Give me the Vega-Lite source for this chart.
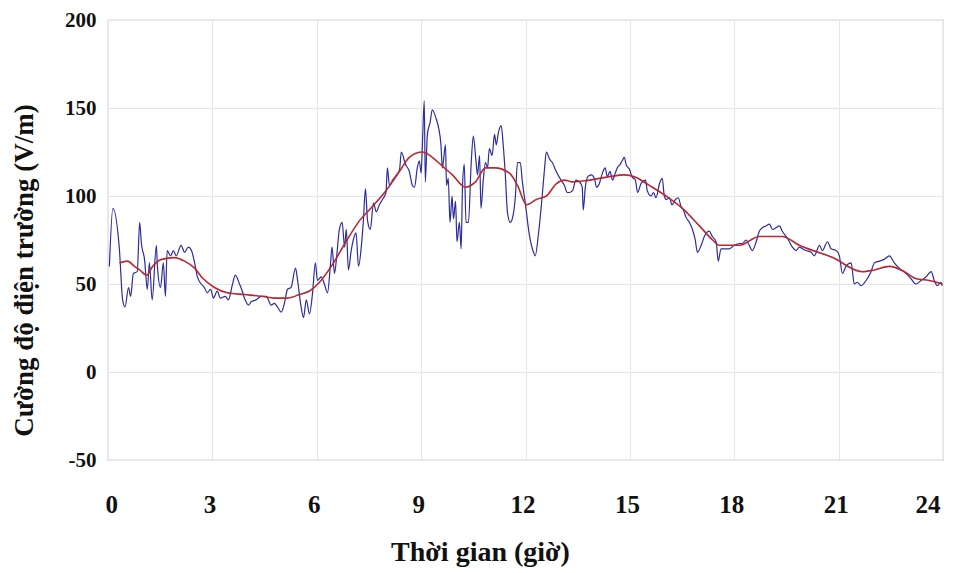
{
  "$schema": "https://vega.github.io/schema/vega-lite/v6.json",
  "width": 835,
  "height": 440,
  "autosize": "none",
  "padding": {"left": 108, "top": 20, "right": 13, "bottom": 113},
  "background": "white",
  "config": {
    "view": {"stroke": "#b8b8b8", "strokeWidth": 1.2},
    "axis": {
      "labelFont": "Liberation Serif",
      "labelFontWeight": "bold",
      "labelFontSize": 20,
      "labelColor": "#111",
      "titleFont": "Liberation Serif",
      "titleFontWeight": "bold",
      "titleFontSize": 27,
      "titleColor": "#111",
      "gridColor": "#e6e6e6",
      "gridWidth": 1,
      "domain": false,
      "ticks": false
    }
  },
  "datasets": {
    "raw": [
      {"t":0.04,"v":60},{"t":0.14,"v":93},{"t":0.33,"v":69},{"t":0.42,"v":41},{"t":0.49,"v":37},{"t":0.59,"v":48},{"t":0.65,"v":43},{"t":0.73,"v":56},{"t":0.84,"v":57},{"t":0.91,"v":85},
      {"t":0.96,"v":73},{"t":1.05,"v":64},{"t":1.13,"v":47},{"t":1.19,"v":62},{"t":1.27,"v":41},{"t":1.39,"v":72},{"t":1.42,"v":60},{"t":1.51,"v":48},{"t":1.59,"v":62},{"t":1.65,"v":43},
      {"t":1.70,"v":69},{"t":1.80,"v":66},{"t":1.88,"v":69},{"t":1.96,"v":66},{"t":2.10,"v":72},{"t":2.20,"v":68},{"t":2.31,"v":71},{"t":2.40,"v":69},{"t":2.49,"v":62},{"t":2.57,"v":54},
      {"t":2.68,"v":50},{"t":2.77,"v":48},{"t":2.85,"v":45},{"t":2.95,"v":47},{"t":3.03,"v":42},{"t":3.14,"v":46},{"t":3.23,"v":42},{"t":3.37,"v":43},{"t":3.46,"v":41},{"t":3.58,"v":50},
      {"t":3.66,"v":55},{"t":3.78,"v":50},{"t":3.84,"v":47},{"t":3.94,"v":41},{"t":4.04,"v":38},{"t":4.12,"v":40},{"t":4.26,"v":41},{"t":4.40,"v":43},{"t":4.55,"v":43},{"t":4.69,"v":38},
      {"t":4.78,"v":39},{"t":4.87,"v":37},{"t":4.98,"v":34},{"t":5.07,"v":39},{"t":5.16,"v":47},{"t":5.26,"v":48},{"t":5.39,"v":59},{"t":5.45,"v":52},{"t":5.55,"v":37},{"t":5.62,"v":31},
      {"t":5.70,"v":41},{"t":5.79,"v":33},{"t":5.88,"v":45},{"t":5.96,"v":62},{"t":6.02,"v":52},{"t":6.13,"v":54},{"t":6.22,"v":50},{"t":6.31,"v":45},{"t":6.39,"v":60},{"t":6.44,"v":71},
      {"t":6.51,"v":56},{"t":6.57,"v":65},{"t":6.65,"v":81},{"t":6.73,"v":85},{"t":6.80,"v":71},{"t":6.85,"v":81},{"t":6.91,"v":58},{"t":6.99,"v":69},{"t":7.05,"v":75},{"t":7.13,"v":79},
      {"t":7.20,"v":60},{"t":7.28,"v":71},{"t":7.34,"v":86},{"t":7.40,"v":104},{"t":7.46,"v":86},{"t":7.54,"v":81},{"t":7.63,"v":96},{"t":7.71,"v":91},{"t":7.80,"v":95},{"t":7.89,"v":98},
      {"t":7.99,"v":102},{"t":8.03,"v":116},{"t":8.09,"v":106},{"t":8.18,"v":109},{"t":8.29,"v":112},{"t":8.38,"v":115},{"t":8.43,"v":125},{"t":8.55,"v":118},{"t":8.66,"v":114},{"t":8.75,"v":106},
      {"t":8.81,"v":105},{"t":8.89,"v":116},{"t":8.95,"v":120},{"t":9.00,"v":113},{"t":9.04,"v":131},{"t":9.09,"v":154},{"t":9.12,"v":108},{"t":9.18,"v":135},{"t":9.26,"v":142},{"t":9.32,"v":149},
      {"t":9.43,"v":144},{"t":9.50,"v":139},{"t":9.57,"v":129},{"t":9.61,"v":116},{"t":9.70,"v":129},{"t":9.73,"v":106},{"t":9.78,"v":110},{"t":9.83,"v":85},{"t":9.89,"v":100},{"t":9.93,"v":87},
      {"t":9.99,"v":97},{"t":10.03,"v":74},{"t":10.10,"v":85},{"t":10.15,"v":70},{"t":10.19,"v":106},{"t":10.24,"v":118},{"t":10.29,"v":85},{"t":10.36,"v":85},{"t":10.44,"v":119},{"t":10.50,"v":134},
      {"t":10.58,"v":119},{"t":10.62,"v":112},{"t":10.68,"v":123},{"t":10.72,"v":93},{"t":10.79,"v":110},{"t":10.85,"v":119},{"t":10.91,"v":116},{"t":10.96,"v":127},{"t":11.04,"v":123},{"t":11.11,"v":135},
      {"t":11.16,"v":129},{"t":11.22,"v":136},{"t":11.30,"v":140},{"t":11.36,"v":129},{"t":11.42,"v":112},{"t":11.48,"v":91},{"t":11.56,"v":85},{"t":11.62,"v":87},{"t":11.71,"v":100},{"t":11.77,"v":119},
      {"t":11.85,"v":119},{"t":11.91,"v":108},{"t":12.00,"v":95},{"t":12.11,"v":78},{"t":12.23,"v":68},{"t":12.28,"v":66},{"t":12.37,"v":78},{"t":12.48,"v":100},{"t":12.54,"v":114},{"t":12.60,"v":125},
      {"t":12.69,"v":121},{"t":12.77,"v":119},{"t":12.88,"v":114},{"t":13.02,"v":109},{"t":13.12,"v":106},{"t":13.20,"v":102},{"t":13.26,"v":102},{"t":13.35,"v":103},{"t":13.45,"v":109},{"t":13.55,"v":108},
      {"t":13.63,"v":105},{"t":13.66,"v":92},{"t":13.72,"v":105},{"t":13.79,"v":111},{"t":13.89,"v":112},{"t":13.98,"v":110},{"t":14.04,"v":105},{"t":14.12,"v":107},{"t":14.21,"v":113},{"t":14.29,"v":116},
      {"t":14.35,"v":111},{"t":14.43,"v":114},{"t":14.50,"v":109},{"t":14.58,"v":113},{"t":14.64,"v":116},{"t":14.72,"v":118},{"t":14.78,"v":120},{"t":14.84,"v":122},{"t":14.89,"v":118},{"t":14.99,"v":115},
      {"t":15.06,"v":111},{"t":15.16,"v":109},{"t":15.22,"v":102},{"t":15.32,"v":107},{"t":15.45,"v":109},{"t":15.50,"v":103},{"t":15.61,"v":100},{"t":15.68,"v":102},{"t":15.75,"v":99},{"t":15.85,"v":107},
      {"t":15.93,"v":110},{"t":15.99,"v":100},{"t":16.05,"v":98},{"t":16.14,"v":99},{"t":16.21,"v":95},{"t":16.31,"v":98},{"t":16.39,"v":99},{"t":16.47,"v":94},{"t":16.54,"v":92},{"t":16.61,"v":88},
      {"t":16.71,"v":85},{"t":16.80,"v":81},{"t":16.88,"v":75},{"t":16.94,"v":68},{"t":17.05,"v":72},{"t":17.14,"v":77},{"t":17.28,"v":80},{"t":17.37,"v":77},{"t":17.48,"v":74},{"t":17.54,"v":63},
      {"t":17.62,"v":70},{"t":17.72,"v":70},{"t":17.86,"v":70},{"t":18.00,"v":72},{"t":18.15,"v":73},{"t":18.23,"v":73},{"t":18.34,"v":75},{"t":18.43,"v":72},{"t":18.52,"v":69},{"t":18.63,"v":74},
      {"t":18.72,"v":80},{"t":18.81,"v":82},{"t":18.91,"v":83},{"t":19.01,"v":84},{"t":19.10,"v":81},{"t":19.20,"v":82},{"t":19.30,"v":83},{"t":19.38,"v":80},{"t":19.53,"v":76},{"t":19.67,"v":71},
      {"t":19.78,"v":69},{"t":19.87,"v":71},{"t":19.96,"v":70},{"t":20.06,"v":69},{"t":20.21,"v":68},{"t":20.30,"v":66},{"t":20.45,"v":72},{"t":20.53,"v":69},{"t":20.68,"v":74},{"t":20.78,"v":70},
      {"t":20.93,"v":69},{"t":21.02,"v":66},{"t":21.11,"v":56},{"t":21.21,"v":60},{"t":21.36,"v":62},{"t":21.45,"v":50},{"t":21.54,"v":51},{"t":21.64,"v":49},{"t":21.79,"v":52},{"t":21.93,"v":57},
      {"t":22.03,"v":62},{"t":22.17,"v":63},{"t":22.31,"v":64},{"t":22.46,"v":66},{"t":22.60,"v":62},{"t":22.74,"v":59},{"t":22.94,"v":56},{"t":23.08,"v":53},{"t":23.22,"v":50},{"t":23.37,"v":52},
      {"t":23.51,"v":54},{"t":23.66,"v":57},{"t":23.75,"v":52},{"t":23.84,"v":49},{"t":23.94,"v":51},{"t":23.98,"v":49}
    ],
    "smooth": [
      {"t":0.33,"v":62},{"t":0.56,"v":63},{"t":0.76,"v":60},{"t":0.91,"v":58},{"t":1.11,"v":55},{"t":1.28,"v":60},{"t":1.54,"v":64},{"t":1.91,"v":65},{"t":2.20,"v":63},{"t":2.49,"v":59},
      {"t":2.69,"v":54},{"t":3.06,"v":48},{"t":3.43,"v":45},{"t":3.92,"v":44},{"t":4.41,"v":43},{"t":4.78,"v":42},{"t":5.16,"v":42},{"t":5.50,"v":44},{"t":5.79,"v":46},{"t":6.08,"v":51},
      {"t":6.45,"v":61},{"t":6.84,"v":74},{"t":7.23,"v":86},{"t":7.60,"v":94},{"t":7.99,"v":103},{"t":8.38,"v":114},{"t":8.66,"v":122},{"t":9.04,"v":125},{"t":9.32,"v":122},{"t":9.61,"v":117},
      {"t":9.90,"v":112},{"t":10.27,"v":105},{"t":10.56,"v":108},{"t":10.85,"v":116},{"t":11.11,"v":116},{"t":11.54,"v":113},{"t":11.77,"v":106},{"t":12.03,"v":95},{"t":12.31,"v":98},{"t":12.60,"v":100},
      {"t":12.89,"v":107},{"t":13.12,"v":109},{"t":13.35,"v":108},{"t":13.84,"v":109},{"t":14.41,"v":111},{"t":14.84,"v":112},{"t":15.13,"v":111},{"t":15.56,"v":106},{"t":16.04,"v":100},{"t":16.51,"v":93},
      {"t":17.00,"v":83},{"t":17.38,"v":75},{"t":17.57,"v":72},{"t":18.15,"v":72},{"t":18.72,"v":77},{"t":19.38,"v":77},{"t":19.87,"v":72},{"t":20.83,"v":65},{"t":21.68,"v":57},{"t":22.03,"v":58},
      {"t":22.46,"v":60},{"t":22.89,"v":57},{"t":23.23,"v":53},{"t":23.60,"v":52},{"t":23.98,"v":50}
    ]
  },
  "layer": [
    {
      "data": {"name": "raw"},
      "mark": {"type": "line", "color": "#2c2c9a", "strokeWidth": 1.2, "interpolate": "monotone"},
      "encoding": {
        "x": {
          "field": "t", "type": "quantitative",
          "scale": {"domain": [0, 24], "nice": false, "zero": false},
          "axis": {"values": [0,3,6,9,12,15,18,21,24], "title": "Thời gian (giờ)", "labelFontSize": 25, "labelPadding": 32, "labelOffset": -3, "titleFontSize": 28, "titleX": 372, "titleY": 78, "titleBaseline": "top"}
        },
        "y": {
          "field": "v", "type": "quantitative",
          "scale": {"domain": [-50, 200], "nice": false, "zero": false},
          "axis": {"values": [-50,0,50,100,150,200], "labelExpr": "'' + datum.value", "title": "Cường độ điện trường (V/m)", "labelFontSize": 21, "labelPadding": 12, "titleX": -70, "titleY": 250, "titleAngle": 270, "titleBaseline": "bottom"}
        }
      }
    },
    {
      "data": {"name": "smooth"},
      "mark": {"type": "line", "color": "#b8282e", "strokeWidth": 1.6, "interpolate": "monotone"},
      "encoding": {
        "x": {"field": "t", "type": "quantitative"},
        "y": {"field": "v", "type": "quantitative"}
      }
    }
  ]
}
